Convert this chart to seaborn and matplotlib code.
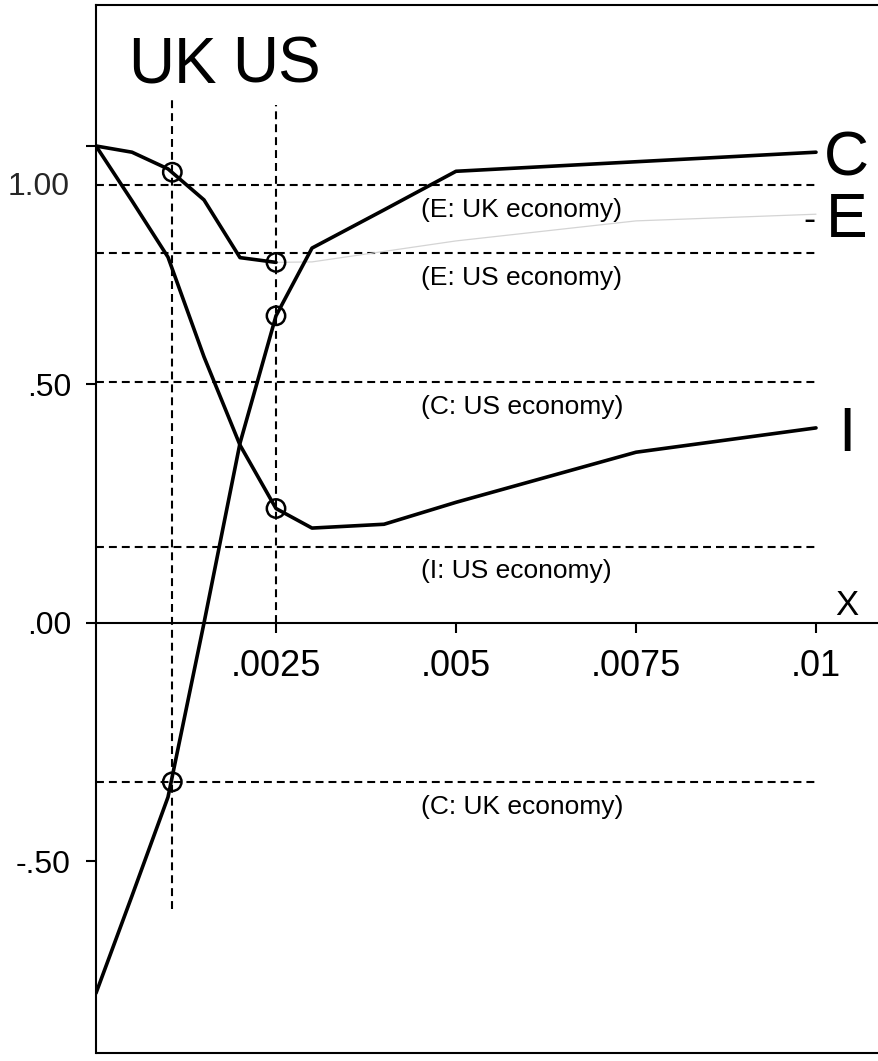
import numpy as np
import pandas as pd
import matplotlib
matplotlib.use("Agg")
import matplotlib.pyplot as plt
import seaborn as sns

# ---------------- data ----------------
x_grid = [0.0, 0.0005, 0.001, 0.0015, 0.002, 0.0025, 0.003, 0.004, 0.005, 0.0075, 0.01]
C_vals = [-0.776, -0.572, -0.365, 0.0, 0.377, 0.644, 0.786, 0.866, 0.947, 0.967, 0.987]
I_vals = [1.0, 0.885, 0.767, 0.558, 0.373, 0.24, 0.199, 0.207, 0.253, 0.358, 0.409]
E_vals = [1.0, 0.987, 0.952, 0.887, 0.766, 0.756, 0.757, 0.779, 0.801, 0.843, 0.857]

x_uk = 0.00106
x_us = 0.0025
country_labels = ["UK", "US"]

ref_names = ["(E: UK economy)", "(E: US economy)", "(C: US economy)",
             "(I: US economy)", "(C: UK economy)"]
ref_vals = [0.918, 0.775, 0.505, 0.16, -0.333]

circle_x = [x_uk, x_uk, x_us, x_us, x_us]
circle_y = [0.945, -0.333, 0.756, 0.644, 0.24]

x_ticks = [0.0025, 0.005, 0.0075, 0.01]
x_ticklabels = [".0025", ".005", ".0075", ".01"]
y_ticks = [-0.5, 0.0, 0.5, 1.0]
y_ticklabels = ["-.50", ".00", ".50", ""]

# ---------------- styling ----------------
sns.set_theme(style="white")
plt.rcParams["font.family"] = ["Liberation Sans", "DejaVu Sans"]

fig = plt.figure(figsize=(8.79, 10.61), dpi=100)
ax = fig.add_axes([96 / 879, 8 / 1061, 783 / 879, 1048 / 1061])
ax.set_xlim(0, 0.010875)
ax.set_ylim(-0.9015, 1.2956)

# main curves
df = pd.DataFrame({
    "x": x_grid * 2,
    "value": C_vals + I_vals,
    "series": ["C"] * len(x_grid) + ["I"] * len(x_grid),
})
sns.lineplot(data=df, x="x", y="value", hue="series", palette={"C": "black", "I": "black"},
             estimator=None, sort=False, legend=False, linewidth=2.6, ax=ax, zorder=3)

split = x_grid.index(x_us)
df_e_dark = pd.DataFrame({"x": x_grid[:split + 1], "value": E_vals[:split + 1]})
df_e_faint = pd.DataFrame({"x": x_grid[split:], "value": E_vals[split:]})
sns.lineplot(data=df_e_dark, x="x", y="value", color="black", estimator=None, sort=False,
             linewidth=2.6, ax=ax, zorder=3)
sns.lineplot(data=df_e_faint, x="x", y="value", color="#d4d4d4", estimator=None, sort=False,
             linewidth=0.9, ax=ax, zorder=2)

# reference dashed lines
dash = (0, (3.8, 2.4))
ax.hlines(ref_vals, 0, x_ticks[-1], colors="black", linestyles=[dash], linewidth=1.5, zorder=1)
ax.vlines([x_uk], -0.60, 1.096, colors="black", linestyles=[dash], linewidth=1.5, zorder=1)
ax.vlines([x_us], 0.0, 1.086, colors="black", linestyles=[dash], linewidth=1.5, zorder=1)

for name, v in zip(ref_names, ref_vals):
    ax.annotate(name, xy=(0.00452, v), xytext=(0, -16), textcoords="offset points",
                ha="left", va="center_baseline", fontsize=19, color="black")

# circles
sns.scatterplot(x=circle_x, y=circle_y, marker="o", s=175, facecolors="none",
                edgecolor="black", linewidth=1.8, ax=ax, zorder=4)

# country labels
for lab, xv in zip(country_labels, [x_uk, x_us]):
    ax.text(xv, 1.134, lab, ha="center", va="baseline", fontsize=46, color="black")

# series labels at the right
x_end = x_grid[-1]
for lab, v in zip(["C", "E", "I"], [C_vals[-1], E_vals[-1], I_vals[-1]]):
    ax.annotate(lab, xy=(x_end, v), xytext=(22, 0), textcoords="offset points",
                ha="center", va="center_baseline", fontsize=45, color="black")
ax.annotate("-", xy=(x_end, E_vals[-1]), xytext=(-5, -2), textcoords="offset points",
            ha="center", va="center_baseline", fontsize=26, color="black")
ax.annotate("X", xy=(x_end, 0), xytext=(22, 6), textcoords="offset points",
            ha="center", va="baseline", fontsize=25, color="black")

# axes
ax.set_xticks(x_ticks)
ax.set_xticklabels(x_ticklabels)
ax.set_yticks(y_ticks)
ax.set_yticklabels(y_ticklabels)
ax.annotate("1.00", xy=(0, 0.922), xycoords=ax.get_yaxis_transform(), xytext=(-19, 0),
            textcoords="offset points", ha="right", va="center_baseline", fontsize=23)
ax.tick_params(axis="x", direction="out", length=7, width=1.5, pad=12, labelsize=26,
               bottom=True, colors="black")
ax.tick_params(axis="y", direction="out", length=7, width=1.5, pad=11, labelsize=23,
               left=True, colors="black")
ax.set_xlabel("")
ax.set_ylabel("")

ax.spines["bottom"].set_position(("data", 0))
ax.spines["right"].set_visible(False)
for s in ["bottom", "top", "left"]:
    ax.spines[s].set_color("black")
    ax.spines[s].set_linewidth(1.5)
ax.plot([0, 1], [0, 0], transform=ax.transAxes, color="black", lw=1.5, clip_on=False)
ax.grid(False)

fig.savefig("out.png", dpi=100, facecolor="white")
